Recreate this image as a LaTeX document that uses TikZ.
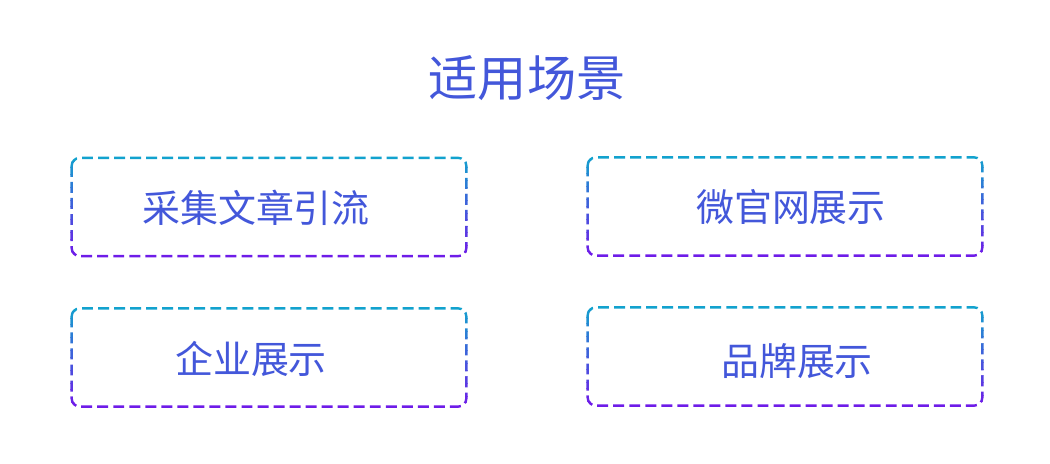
\documentclass[tikz,border=0pt]{standalone}
\usepackage{fontspec}
\setmainfont{Noto Sans CJK SC}
\usetikzlibrary{calc}
\definecolor{topcyan}{HTML}{12A2CE}
\definecolor{botpurple}{HTML}{6E1CE8}
\definecolor{midblue}{HTML}{4357DA}

% dashed frame of a node, shaded from cyan (top) to purple (bottom)
\newcommand{\gradframe}[1]{%
  \foreach \k in {0,...,15} {
    \pgfmathsetmacro{\mixpct}{100-\k*100/15}
    \begin{scope}
      \clip ($(#1.north west)+(-4,{-3+\k*6.5})$) rectangle ($(#1.north east)+(4,{-3+(\k+1)*6.5})$);
      \draw [dashbox, draw=topcyan!\mixpct!botpurple] (#1.north west) rectangle (#1.south east);
    \end{scope}
  }}

\begin{document}
\begin{tikzpicture}[x=0.025cm, y=-0.025cm,
    headline/.style={font=\fontsize{35}{42}\selectfont, text=midblue},
    scene/.style={rectangle, minimum width=9.85cm, minimum height=2.44cm, inner sep=0pt},
    scenetext/.style={font=\fontsize{27}{32}\selectfont, text=midblue},
    dashbox/.style={dash pattern=on 7.8pt off 3.6pt, line width=1.7pt, rounded corners=5.7pt}
]
\useasboundingbox (0,0) rectangle (1050,464);
\node (title) [headline] at (527,78) {适用场景};

\node (caiji)  [scene] at (269,207) {};
\node (weiguan) [scene] at (785,206.5) {};
\node (qiye)   [scene] at (269,357.5) {};
\node (pinpai) [scene] at (785,356.5) {};

\node (caijitext)   [scenetext] at (256,208) {采集文章引流};
\node (weiguantext) [scenetext] at (791,207) {微官网展示};
\node (qiyetext)    [scenetext] at (251,359) {企业展示};
\node (pinpaitext)  [scenetext] at (797,361) {品牌展示};

\gradframe{caiji}
\gradframe{weiguan}
\gradframe{qiye}
\gradframe{pinpai}
\end{tikzpicture}
\end{document}
